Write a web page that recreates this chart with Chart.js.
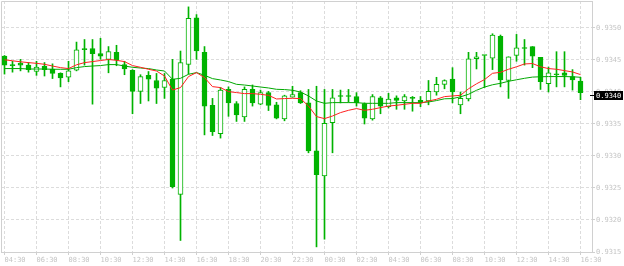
<!DOCTYPE html>
<html>
<head>
<meta charset="utf-8">
<script src="https://cdn.jsdelivr.net/npm/chart.js@4.4.1/dist/chart.umd.min.js"></script>
<style>
  html, body { margin: 0; padding: 0; background: #fff; }
</style>
</head>
<body>
<canvas id="chart" width="624" height="266"></canvas>
<script>
// Velas de 30 minutos (OHLC)
const openP = [0.93456,0.93443,0.93445,0.93442,0.93432,0.93440,0.93436,0.93429,0.93423,0.93434,
  0.93468,0.93468,0.93460,0.93451,0.93462,0.93443,0.93434,0.93401,0.93426,0.93418,
  0.93407,0.93420,0.93240,0.93443,0.93516,0.93462,0.93379,0.93335,0.93404,0.93382,
  0.93361,0.93404,0.93381,0.93399,0.93380,0.93358,0.93392,0.93399,0.93383,0.93308,
  0.93269,0.93352,0.93393,0.93393,0.93393,0.93382,0.93358,0.93391,0.93377,0.93391,
  0.93386,0.93390,0.93387,0.93386,0.93400,0.93412,0.93420,0.93380,0.93389,0.93452,
  0.93457,0.93453,0.93487,0.93418,0.93457,0.93469,0.93471,0.93454,0.93413,0.93427,
  0.93430,0.93424,0.93417];
const highP = [0.93457,0.93448,0.93451,0.93446,0.93448,0.93446,0.93444,0.93430,0.93448,0.93478,
  0.93482,0.93482,0.93484,0.93471,0.93473,0.93448,0.93435,0.93427,0.93432,0.93429,
  0.93429,0.93451,0.93464,0.93533,0.93521,0.93471,0.93390,0.93407,0.93408,0.93385,
  0.93408,0.93411,0.93403,0.93401,0.93384,0.93395,0.93409,0.93402,0.93404,0.93409,
  0.93404,0.93404,0.93403,0.93404,0.93399,0.93383,0.93396,0.93393,0.93398,0.93394,
  0.93396,0.93393,0.93393,0.93418,0.93423,0.93419,0.93438,0.93400,0.93462,0.93462,
  0.93457,0.93491,0.93489,0.93455,0.93490,0.93482,0.93471,0.93454,0.93439,0.93463,
  0.93463,0.93435,0.93423];
const lowP = [0.93428,0.93431,0.93433,0.93431,0.93426,0.93425,0.93421,0.93408,0.93416,0.93433,
  0.93442,0.93381,0.93451,0.93430,0.93441,0.93427,0.93366,0.93382,0.93386,0.93382,
  0.93390,0.93250,0.93168,0.93428,0.93451,0.93333,0.93332,0.93328,0.93362,0.93354,
  0.93354,0.93378,0.93380,0.93371,0.93358,0.93355,0.93392,0.93382,0.93305,0.93158,
  0.93170,0.93305,0.93383,0.93384,0.93378,0.93350,0.93356,0.93366,0.93375,0.93373,
  0.93373,0.93370,0.93377,0.93380,0.93395,0.93405,0.93383,0.93366,0.93386,0.93436,
  0.93407,0.93435,0.93408,0.93390,0.93448,0.93442,0.93438,0.93404,0.93400,0.93408,
  0.93408,0.93403,0.93388];
const closeP = [0.93442,0.93441,0.93442,0.93435,0.93439,0.93435,0.93429,0.93422,0.93433,0.93466,
  0.93466,0.93460,0.93456,0.93463,0.93450,0.93436,0.93401,0.93424,0.93420,0.93406,
  0.93418,0.93252,0.93446,0.93515,0.93464,0.93378,0.93338,0.93403,0.93383,0.93364,
  0.93404,0.93383,0.93399,0.93379,0.93359,0.93394,0.93396,0.93383,0.93308,0.93271,
  0.93351,0.93391,0.93393,0.93393,0.93383,0.93359,0.93393,0.93378,0.93389,0.93387,
  0.93393,0.93390,0.93383,0.93401,0.93412,0.93418,0.93400,0.93390,0.93452,0.93455,
  0.93457,0.93489,0.93419,0.93455,0.93469,0.93468,0.93456,0.93416,0.93430,0.93427,
  0.93426,0.93419,0.93399];

// Medias moviles (rapida roja, lenta verde)
const maFast = [0.934503,0.934488,0.934472,0.934459,0.934448,0.934433,0.934406,0.934381,0.934366,0.934425,
  0.934459,0.934475,0.934492,0.934508,0.934495,0.934475,0.934413,0.934386,0.934355,0.934328,
  0.934250,0.934031,0.934069,0.934241,0.934303,0.934225,0.934084,0.934069,0.934006,0.933991,
  0.933975,0.933975,0.933964,0.933948,0.933891,0.933897,0.933902,0.933897,0.933781,0.933616,
  0.933584,0.933625,0.933678,0.933714,0.933741,0.933714,0.933730,0.933756,0.933781,0.933792,
  0.933808,0.933823,0.933823,0.933859,0.933886,0.933928,0.933938,0.933948,0.934050,0.934128,
  0.934194,0.934292,0.934308,0.934355,0.934394,0.934438,0.934445,0.934394,0.934366,0.934355,
  0.934334,0.934313,0.934272];
const maSlow = [0.934366,0.934366,0.934366,0.934359,0.934359,0.934359,0.934355,0.934355,0.934355,0.934381,
  0.934397,0.934406,0.934413,0.934428,0.934428,0.934406,0.934386,0.934375,0.934366,0.934344,
  0.934328,0.934198,0.934214,0.934277,0.934303,0.934261,0.934209,0.934188,0.934163,0.934120,
  0.934109,0.934094,0.934078,0.934063,0.934042,0.934038,0.934027,0.934000,0.933938,0.933859,
  0.933823,0.933834,0.933834,0.933834,0.933834,0.933823,0.933823,0.933823,0.933823,0.933834,
  0.933834,0.933834,0.933834,0.933844,0.933866,0.933894,0.933897,0.933925,0.933964,0.934027,
  0.934077,0.934113,0.934136,0.934167,0.934191,0.934214,0.934233,0.934238,0.934241,0.934241,
  0.934241,0.934238,0.934230];

// Etiquetas de tiempo (una cada 4 velas) y de precio
const timeLabels = ['04:30','06:30','08:30','10:30','12:30','14:30','16:30','18:30','20:30','22:30',
  '00:30','02:30','04:30','06:30','08:30','10:30','12:30','14:30','16:30'];
const priceTicks = [0.9315, 0.9320, 0.9325, 0.9330, 0.9335, 0.9340, 0.9345, 0.9350];
const lastPrice = 0.93396;

const candleGreen = '#00b300';
const gridColor = '#dcdcdc';
const axisColor = '#d0d0d0';
const labelColor = '#c4c4c4';
const tickFont = { family: '"DejaVu Sans Mono", monospace', size: 7 };

const wicks = highP.map((h, i) => ({ x: i, y: [lowP[i], h] }));
const bodies = openP.map((o, i) => ({ x: i, y: [o, closeP[i]] }));
const bodyFill = openP.map((o, i) => closeP[i] > o ? '#ffffff' : candleGreen);

// Marco izquierdo y superior del area del grafico
const framePlugin = {
    id: 'frame',
    beforeDatasetsDraw(chart) {
        const { ctx, chartArea: a } = chart;
        ctx.save();
        ctx.strokeStyle = axisColor;
        ctx.lineWidth = 1;
        ctx.beginPath();
        ctx.moveTo(a.left + 0.5, a.bottom);
        ctx.lineTo(a.left + 0.5, a.top + 0.5);
        ctx.lineTo(a.right, a.top + 0.5);
        ctx.stroke();
        ctx.restore();
    }
};

// Etiqueta negra del precio actual
const pricePlugin = {
    id: 'priceTag',
    afterDraw(chart) {
        const { ctx, chartArea: a } = chart;
        const py = Math.round(chart.scales.y.getPixelForValue(lastPrice));
        ctx.save();
        ctx.fillStyle = '#000';
        ctx.fillRect(a.right - 2, py, 4, 1);
        ctx.fillRect(a.right + 2, py - 4, 29, 9);
        ctx.fillStyle = '#fff';
        ctx.font = '7px "DejaVu Sans Mono", monospace';
        ctx.textBaseline = 'middle';
        ctx.fillText(lastPrice.toFixed(4), a.right + 4, py + 1);
        ctx.restore();
    }
};

new Chart(document.getElementById('chart'), {
    type: 'bar',
    data: {
        datasets: [{
            type: 'line',
            data: maFast.map((v, i) => ({ x: i, y: v })),
            borderColor: '#ff2020',
            borderWidth: 1,
            pointRadius: 0,
            tension: 0,
            order: 1
        }, {
            type: 'line',
            data: maSlow.map((v, i) => ({ x: i, y: v })),
            borderColor: '#00a800',
            borderWidth: 1,
            pointRadius: 0,
            tension: 0,
            order: 2
        }, {
            data: bodies,
            backgroundColor: bodyFill,
            borderColor: candleGreen,
            borderWidth: 1,
            borderSkipped: false,
            barThickness: 5,
            minBarLength: 1,
            grouped: false,
            order: 3
        }, {
            data: wicks,
            backgroundColor: candleGreen,
            borderWidth: 0,
            barThickness: 1,
            grouped: false,
            order: 4
        }]
    },
    options: {
        responsive: false,
        animation: false,
        layout: { padding: { left: 1, top: 1, right: 0, bottom: 0 } },
        plugins: { legend: { display: false }, tooltip: { enabled: false } },
        scales: {
            x: {
                type: 'linear',
                offset: false,
                min: -0.4375,
                max: 73.4375,
                afterBuildTicks: s => { s.ticks = timeLabels.map((t, k) => ({ value: k * 4 })); },
                afterFit: s => { s.height = 14; s.paddingLeft = 0; s.paddingRight = 0; },
                ticks: {
                    callback: v => timeLabels[Math.round(v / 4)],
                    align: 'start',
                    autoSkip: false,
                    maxRotation: 0,
                    padding: 1,
                    color: labelColor,
                    font: tickFont
                },
                grid: { offset: false, color: gridColor, tickColor: axisColor, tickLength: 3 },
                border: { color: axisColor, dash: [3, 2] }
            },
            y: {
                type: 'linear',
                position: 'right',
                min: 0.9315,
                max: 0.935421875,
                afterBuildTicks: s => { s.ticks = priceTicks.map(v => ({ value: v })); },
                afterFit: s => { s.width = 32; s.paddingTop = 0; s.paddingBottom = 0; },
                ticks: {
                    callback: v => v.toFixed(4),
                    padding: 1,
                    color: labelColor,
                    font: tickFont
                },
                grid: { color: gridColor, tickColor: axisColor, tickLength: 3 },
                border: { color: axisColor, dash: [3, 2] }
            }
        }
    },
    plugins: [framePlugin, pricePlugin]
});
</script>
</body>
</html>
